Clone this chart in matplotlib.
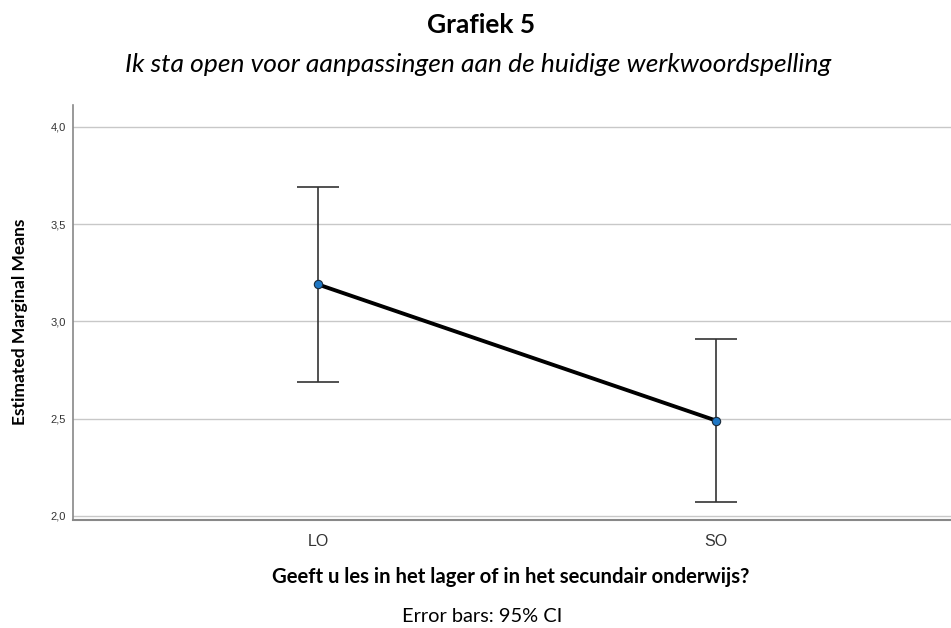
import matplotlib.pyplot as plt
import numpy as np

# data
groups = ['LO', 'SO']
means = [3.19, 2.49]
ci_low = [2.69, 2.07]
ci_high = [3.69, 2.91]
yticks = [2.0, 2.5, 3.0, 3.5, 4.0]
ytick_labels = ['2,0', '2,5', '3,0', '3,5', '4,0']

fig = plt.figure(figsize=(9.51, 6.28), dpi=100)
ax = fig.add_axes([73 / 951, 1 - 520 / 628, 1 - 73 / 951, (520 - 105) / 628])

x = np.arange(len(groups))
m = np.array(means)
err = [m - np.array(ci_low), np.array(ci_high) - m]

ax.errorbar(x, m, yerr=err, fmt='none', ecolor='#333333', elinewidth=1.2,
            capsize=15, capthick=1.2, zorder=2)
ax.plot(x, m, color='black', linewidth=2.8, zorder=3)
ax.plot(x, m, 'o', markersize=6, markerfacecolor='#1f77c4',
        markeredgecolor='#1a2a3a', markeredgewidth=0.8, zorder=4)

ax.set_xlim(-0.616, 1.59)
ax.set_ylim(1.979, 4.113)
ax.set_yticks(yticks)
ax.set_yticklabels(ytick_labels, fontsize=8, family='Liberation Sans', color='#333333')
ax.set_xticks(x)
ax.set_xticklabels(groups, fontsize=11.5, family='Liberation Sans', color='#333333')
ax.tick_params(axis='y', length=0, pad=5)
ax.tick_params(axis='x', length=0, pad=10)

for y in yticks:
    ax.axhline(y, color='#c8c8c8', linewidth=1.0, zorder=1)

for s in ['top', 'right']:
    ax.spines[s].set_visible(False)
ax.spines['left'].set_color('#888888')
ax.spines['bottom'].set_color('#888888')
ax.spines['left'].set_linewidth(1.2)
ax.spines['bottom'].set_linewidth(1.5)

fig.text(20 / 951, 1 - 322 / 628, 'Estimated Marginal Means', rotation=90,
         ha='center', va='center', fontsize=12.5, fontweight='bold', family='Lato')

fig.text(481 / 951, 1 - 33 / 628, 'Grafiek 5', ha='center', va='baseline',
         fontsize=19, fontweight='bold', family='Lato')
fig.text(478 / 951, 1 - 72 / 628, 'Ik sta open voor aanpassingen aan de huidige werkwoordspelling',
         ha='center', va='baseline', fontsize=19, style='italic', family='Lato')
fig.text(511 / 951, 1 - 577 / 628, 'Geeft u les in het lager of in het secundair onderwijs?',
         ha='center', va='center', fontsize=14.6, fontweight='bold', family='Lato')
fig.text(482 / 951, 1 - 616 / 628, 'Error bars: 95% CI', ha='center', va='center',
         fontsize=14.4, family='Lato')

fig.savefig('out.png', dpi=100, facecolor='white')
